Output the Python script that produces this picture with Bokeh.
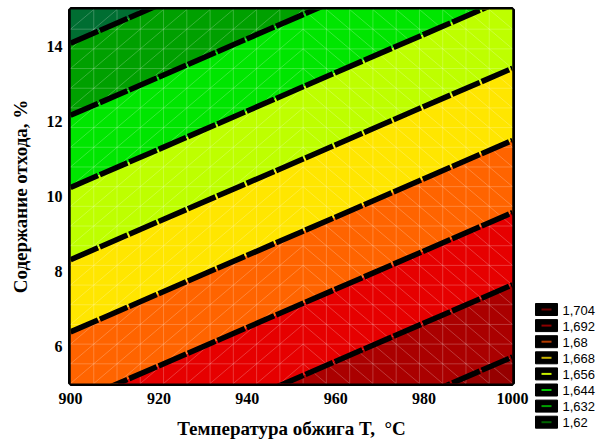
import numpy as np
from bokeh.plotting import figure
from bokeh.models import Range1d, FixedTicker
from bokeh.core.properties import value
from bokeh.embed import file_html
from bokeh.resources import INLINE

# ---- data ----
# contour levels (lowest at top-left, highest at bottom-right)
levels = [1.62, 1.632, 1.644, 1.656, 1.668, 1.68, 1.692, 1.704]
level_labels = ["1,62", "1,632", "1,644", "1,656", "1,668", "1,68", "1,692", "1,704"]
# waste content (%) where each contour line meets T=900 and T=1000
w_at_900 = [14.10, 12.17, 10.24, 8.31, 6.38, 4.45, 2.52, 0.59]
w_at_1000 = [19.22, 17.29, 15.36, 13.43, 11.50, 9.57, 7.64, 5.71]
# band fill colours from top-left band to bottom-right band
band_colors = ["#006E32", "#00A000", "#00E600", "#BEFF00", "#FFE600",
               "#FF6400", "#E60000", "#AA0000", "#960000"]
# legend line colours for each level
legend_line_colors = ["#006400", "#00A000", "#00C800", "#C8F000", "#C8B400",
                      "#B43C00", "#8C0000", "#6E0000"]
x_ticks = [900, 920, 940, 960, 980, 1000]
y_ticks = [6, 8, 10, 12, 14]
T_min, T_max = 900, 1000
W_min, W_max = 5, 15

W, H = 599, 445
BL, BR, BT, FH = 70, 87, 9, 374
p = figure(width=W, height=H, output_backend="svg", toolbar_location=None,
           x_range=Range1d(T_min, T_max), y_range=Range1d(W_min, W_max),
           min_border_left=BL, min_border_right=BR, min_border_top=BT,
           min_border_bottom=H - BT - FH)
p.background_fill_color = "white"
p.border_fill_color = "white"
p.grid.visible = False
p.outline_line_color = "black"
p.outline_line_width = 5
# pixel-coordinate ranges (page pixels) used for the legend
p.extra_x_ranges = {"px": Range1d(BL, W - BR)}
p.extra_y_ranges = {"px": Range1d(BT + FH, BT)}

# ---- filled bands between consecutive contour lines ----
far = 80.0
upper_900 = [W_max + far] + w_at_900
upper_1000 = [W_max + far] + w_at_1000
lower_900 = w_at_900 + [W_min - far]
lower_1000 = w_at_1000 + [W_min - far]
xs, ys = [], []
for k in range(len(band_colors)):
    xs.append([T_min, T_max, T_max, T_min])
    ys.append([upper_900[k], upper_1000[k], lower_1000[k], lower_900[k]])
p.patches(xs=xs, ys=ys, fill_color=band_colors, line_color=None)

# ---- faint triangular interpolation mesh ----
n = 19
xe = np.linspace(T_min, T_max, n + 1)
ye = np.linspace(W_min, W_max, n + 1)
mx0, my0, mx1, my1 = [], [], [], []
for v in xe[1:-1]:
    mx0.append(v); my0.append(W_min); mx1.append(v); my1.append(W_max)
for v in ye[1:-1]:
    mx0.append(T_min); my0.append(v); mx1.append(T_max); my1.append(v)
for i in range(n):
    for j in range(n):
        if i < 10:
            mx0.append(xe[i]); my0.append(ye[j]); mx1.append(xe[i + 1]); my1.append(ye[j + 1])
        else:
            mx0.append(xe[i]); my0.append(ye[j + 1]); mx1.append(xe[i + 1]); my1.append(ye[j])
p.segment(x0=mx0, y0=my0, x1=mx1, y1=my1, line_color="white", line_alpha=0.22, line_width=1)

# ---- contour lines ----
p.segment(x0=[T_min] * len(levels), y0=w_at_900, x1=[T_max] * len(levels), y1=w_at_1000,
          line_color="black", line_width=5.5, line_dash="30 2")

# ---- axes ----
for ax in (p.xaxis[0], p.yaxis[0]):
    ax.axis_line_color = None
    ax.major_tick_line_color = None
    ax.minor_tick_line_color = None
    ax.major_tick_out = 0
    ax.major_tick_in = 0
    ax.major_label_text_font = "Liberation Serif"
    ax.major_label_text_font_style = "bold"
    ax.major_label_text_font_size = "16px"
    ax.major_label_text_color = "black"
    ax.axis_label_text_font = "Liberation Serif"
    ax.axis_label_text_font_style = "bold"
    ax.axis_label_text_font_size = "19px"
    ax.axis_label_text_color = "black"
p.xaxis.ticker = FixedTicker(ticks=x_ticks)
p.yaxis.ticker = FixedTicker(ticks=y_ticks)
p.xaxis.axis_label = "Температура обжига T,\u00a0 °C"
p.yaxis.axis_label = "Содержание отхода, %"
p.xaxis.major_label_standoff = 9
p.xaxis.axis_label_standoff = 11
p.yaxis.major_label_standoff = 8
p.yaxis.axis_label_standoff = 13

# ---- legend (overlay level, pixel ranges, outside the frame) ----
order = list(range(len(levels)))[::-1]          # 1,704 at top
top_y, pitch = 309, 16.1
sw_x, sw_w, sw_h = 535, 22, 12
yc = [top_y + pitch * r for r in range(len(order))]
common = dict(x_range_name="px", y_range_name="px", level="overlay")
p.rect(x=[sw_x + sw_w / 2] * len(order), y=yc, width=sw_w, height=sw_h,
       fill_color="black", line_color="black", **common)
p.segment(x0=[sw_x + 6] * len(order), y0=yc, x1=[sw_x + 16] * len(order), y1=yc,
          line_color=[legend_line_colors[k] for k in order], line_width=2, **common)
p.text(x=[sw_x + sw_w + 5] * len(order), y=[v + 0.5 for v in yc],
       text=[level_labels[k] for k in order],
       text_font=value("Liberation Sans"), text_font_size="13px",
       text_baseline="middle", text_align="left", text_color="black", **common)

open("out.html", "w").write(file_html(p, INLINE))
